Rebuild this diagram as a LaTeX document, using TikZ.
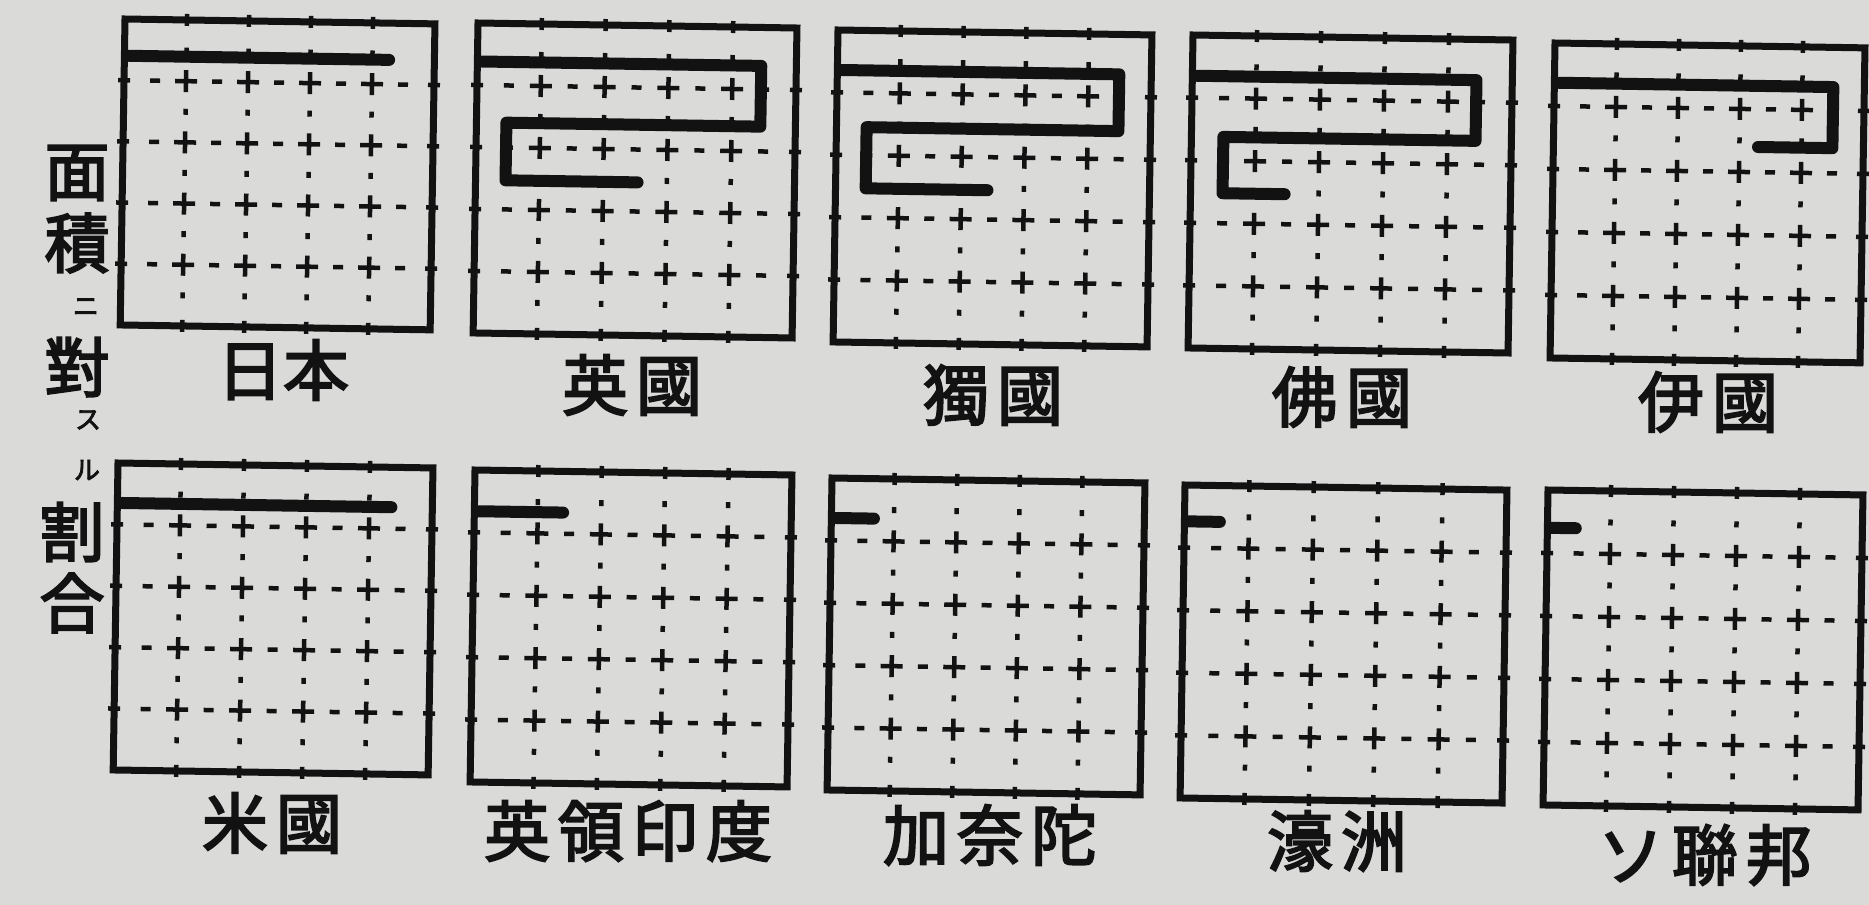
\documentclass[tikz,border=0pt]{standalone}
\usepackage{fontspec}
\newfontfamily\cjk{Noto Sans CJK JP}[FakeBold=3]
\definecolor{paper}{RGB}{218,218,216}
\definecolor{ink}{RGB}{18,18,18}
\tikzset{
  frame/.style={draw=ink, line width=7pt, line join=miter},
  gmark/.style={draw=ink, line width=4.5pt},
  snakebar/.style={draw=ink, line width=12pt, line join=round, line cap=round},
  lbl/.style={text=ink, inner sep=0pt, font=\cjk\fontsize{66}{66}\selectfont},
  vbig/.style={text=ink, inner sep=0pt, font=\cjk\fontsize{65}{65}\selectfont},
  vsmall/.style={text=ink, inner sep=0pt, font=\cjk\fontsize{26}{26}\selectfont},
}
\newcommand\lsp{\kern8pt}
\newcommand\chartbox[5]{%
  \begin{scope}[shift={(#1,#2)}, rotate=-0.9, x={(#3pt/5,0pt)}, y={(0pt,-#4pt/5)}]
    \foreach \gk in {1,...,4} {
      \foreach \gj in {1,...,4} {
        \draw[gmark] (\gj,\gk) ++(-11pt,0pt) -- ++(22pt,0pt);
        \draw[gmark] (\gk,\gj) ++(0pt,-11pt) -- ++(0pt,22pt);
      }
      \foreach \gj in {0.5,1.5,2.5,3.5,4.5} {
        \draw[gmark] (\gj,\gk) ++(-5pt,0pt) -- ++(10pt,0pt);
        \draw[gmark] (\gk,\gj) ++(0pt,-3pt) -- ++(0pt,6pt);
      }
      \foreach \gj in {0,5} {
        \draw[gmark] (\gj,\gk) ++(-6pt,0pt) -- ++(12pt,0pt);
        \draw[gmark] (\gk,\gj) ++(0pt,-6pt) -- ++(0pt,12pt);
      }
    }
    \draw[snakebar] #5;
    \draw[frame] (0,0) rectangle (5,5);
  \end{scope}}
\begin{document}
\begin{tikzpicture}[x=1pt,y=-1pt]
\useasboundingbox (0,0) rectangle (1869,905);
\fill[paper] (0,0) rectangle (1869,905);

% charts, top row
\chartbox{125}{19}{310}{306}{(0.07,0.6) -- (4.27,0.6)}
\chartbox{478}{23}{319}{310}{(0.07,0.62) -- (4.45,0.62) -- (4.45,1.6) -- (0.47,1.6) -- (0.47,2.53) -- (2.54,2.53)}
\chartbox{838}{30}{314}{312}{(0.07,0.64) -- (4.49,0.64) -- (4.49,1.55) -- (0.48,1.55) -- (0.48,2.53) -- (2.42,2.53)}
\chartbox{1193}{35}{320}{313}{(0.07,0.65) -- (4.44,0.65) -- (4.44,1.62) -- (0.5,1.62) -- (0.5,2.52) -- (1.47,2.52)}
\chartbox{1555}{43}{310}{315}{(0.07,0.63) -- (4.5,0.63) -- (4.5,1.6) -- (3.3,1.6)}
% charts, bottom row
\chartbox{118}{463}{315}{307}{(0.07,0.65) -- (4.35,0.65)}
\chartbox{475}{470}{317}{312}{(0.07,0.66) -- (1.4,0.66)}
\chartbox{832}{478}{313}{312}{(0.07,0.64) -- (0.68,0.64)}
\chartbox{1185}{485}{322}{313}{(0.07,0.58) -- (0.55,0.58)}
\chartbox{1548}{490}{315}{315}{(0.07,0.6) -- (0.45,0.6)}

% labels
\node[lbl] (l1) at (283,370) {日本};
\node[lbl] (l2) at (632,385) {英\lsp 國};
\node[lbl] (l3) at (993,395) {獨\lsp 國};
\node[lbl] (l4) at (1342,397) {佛\lsp 國};
\node[lbl] (l5) at (1708,402) {伊\lsp 國};
\node[lbl] (l6) at (272,823) {米\lsp 國};
\node[lbl] (l7) at (628,831) {英\lsp 領\lsp 印\lsp 度};
\node[lbl] (l8) at (990,835) {加\lsp 奈\lsp 陀};
\node[lbl] (l9) at (1337,841) {濠\lsp 洲};
\node[lbl] (l10) at (1705,855) {ソ\lsp 聯\lsp 邦};

% vertical title
\node[vbig] (v1) at (77,173) {面};
\node[vbig] (v2) at (77,243) {積};
\node[vsmall] (v3) at (86,307) {ニ};
\node[vbig] (v4) at (77,367) {對};
\node[vsmall] (v5) at (88,420) {ス};
\node[vsmall] (v6) at (87,470) {ル};
\node[vbig] (v7) at (72,532) {割};
\node[vbig] (v8) at (72,603) {合};
\end{tikzpicture}
\end{document}
